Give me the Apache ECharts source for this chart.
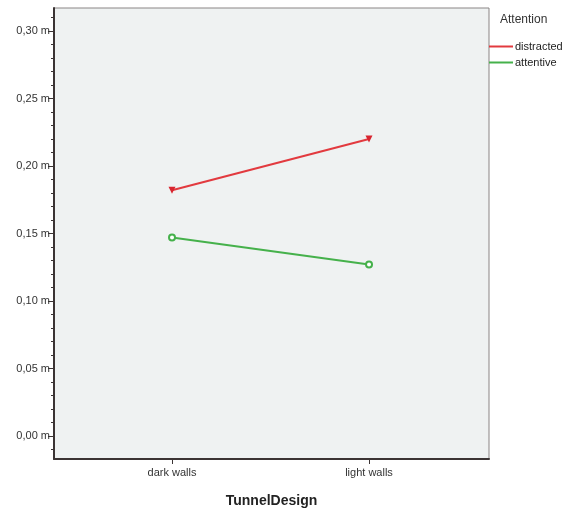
<!DOCTYPE html>
<html><head><meta charset="utf-8">
<script src="https://cdn.jsdelivr.net/npm/echarts@6/dist/echarts.min.js"></script>
<style>html,body{margin:0;padding:0;background:#fff}#c{width:571px;height:513px}</style>
</head><body><div id="c"></div>
<script>
var categories = ['dark walls', 'light walls'];
var seriesNames = ['distracted', 'attentive'];
var distracted = [0.182, 0.220];
var attentive = [0.147, 0.127];
var yTicks = [0, 0.05, 0.10, 0.15, 0.20, 0.25, 0.30];
var yMinorTicks = [-0.01,0.01,0.02,0.03,0.04,0.06,0.07,0.08,0.09,0.11,0.12,0.13,0.14,0.16,0.17,0.18,0.19,0.21,0.22,0.23,0.24,0.26,0.27,0.28,0.29,0.31];

var chart = echarts.init(document.getElementById('c'), null, {renderer:'canvas'});
function pts(arr){ return arr.map(function(v,i){ return [i, v]; }); }
var axisColor = '#3b3434';
var option = {
  animation: false,
  backgroundColor: '#ffffff',
  textStyle: { fontFamily: 'Liberation Sans, Arial, sans-serif' },
  grid: { left: 54, right: 82, top: 8, bottom: 51, show: true, backgroundColor: '#eff2f2', borderColor: '#8a8585', borderWidth: 1 },
  legend: {
    orient: 'vertical', left: 489, top: 41, itemGap: 5, itemWidth: 24, itemHeight: 2, icon: 'rect', padding: 0,
    data: [{ name: seriesNames[0], itemStyle: { color: '#e23a3f', borderWidth: 0 } },
           { name: seriesNames[1], itemStyle: { color: '#45b14b', borderWidth: 0 } }],
    textStyle: { fontSize: 11, color: '#222', padding: [0,0,0,-3] }
  },
  graphic: [{ type: 'text', left: 500, top: 14, style: { text: 'Attention', fontSize: 12, fill: '#333', fontFamily: 'Liberation Sans, Arial, sans-serif' } }],
  xAxis: {
    type: 'value', min: -0.599, max: 1.609,
    name: 'TunnelDesign', nameLocation: 'middle', nameGap: 35,
    nameTextStyle: { fontSize: 14, fontWeight: 'bold', color: '#222' },
    splitLine: { show: false },
    axisLine: { onZero: false, lineStyle: { color: axisColor, width: 2 } },
    axisTick: { show: true, length: 5, customValues: [0, 1], lineStyle: { color: axisColor } },
    axisLabel: { customValues: [0, 1], fontSize: 11, color: '#333', margin: 8,
      formatter: function(v){ return categories[Math.round(v)] || ''; } }
  },
  yAxis: [{
    type: 'value', min: -0.017, max: 0.317,
    splitLine: { show: false },
    axisLine: { show: true, onZero: false, lineStyle: { color: axisColor, width: 2 } },
    axisTick: { show: true, length: 6, customValues: yTicks, lineStyle: { color: axisColor } },
    axisLabel: { customValues: yTicks, fontSize: 11, color: '#333', margin: 4,
      formatter: function(v){ return v.toFixed(2).replace('.', ',') + ' m'; } }
  }, {
    type: 'value', min: -0.017, max: 0.317, position: 'left',
    splitLine: { show: false },
    axisLine: { show: false, onZero: false },
    axisTick: { show: true, length: 3, customValues: yMinorTicks, lineStyle: { color: axisColor } },
    axisLabel: { show: false }
  }],
  series: [{
    name: seriesNames[0], type: 'line', data: pts(distracted),
    color: '#e23a3f', lineStyle: { width: 2, color: '#e23a3f' }, symbol: 'triangle', symbolRotate: 180, symbolSize: 7,
    itemStyle: { color: '#d8252f' }
  }, {
    name: seriesNames[1], type: 'line', data: pts(attentive),
    color: '#45b14b', lineStyle: { width: 2, color: '#45b14b' }, symbol: 'emptyCircle', symbolSize: 6,
    itemStyle: { color: '#45b14b', borderWidth: 1 }
  }]
};
chart.setOption(option);
</script></body></html>
